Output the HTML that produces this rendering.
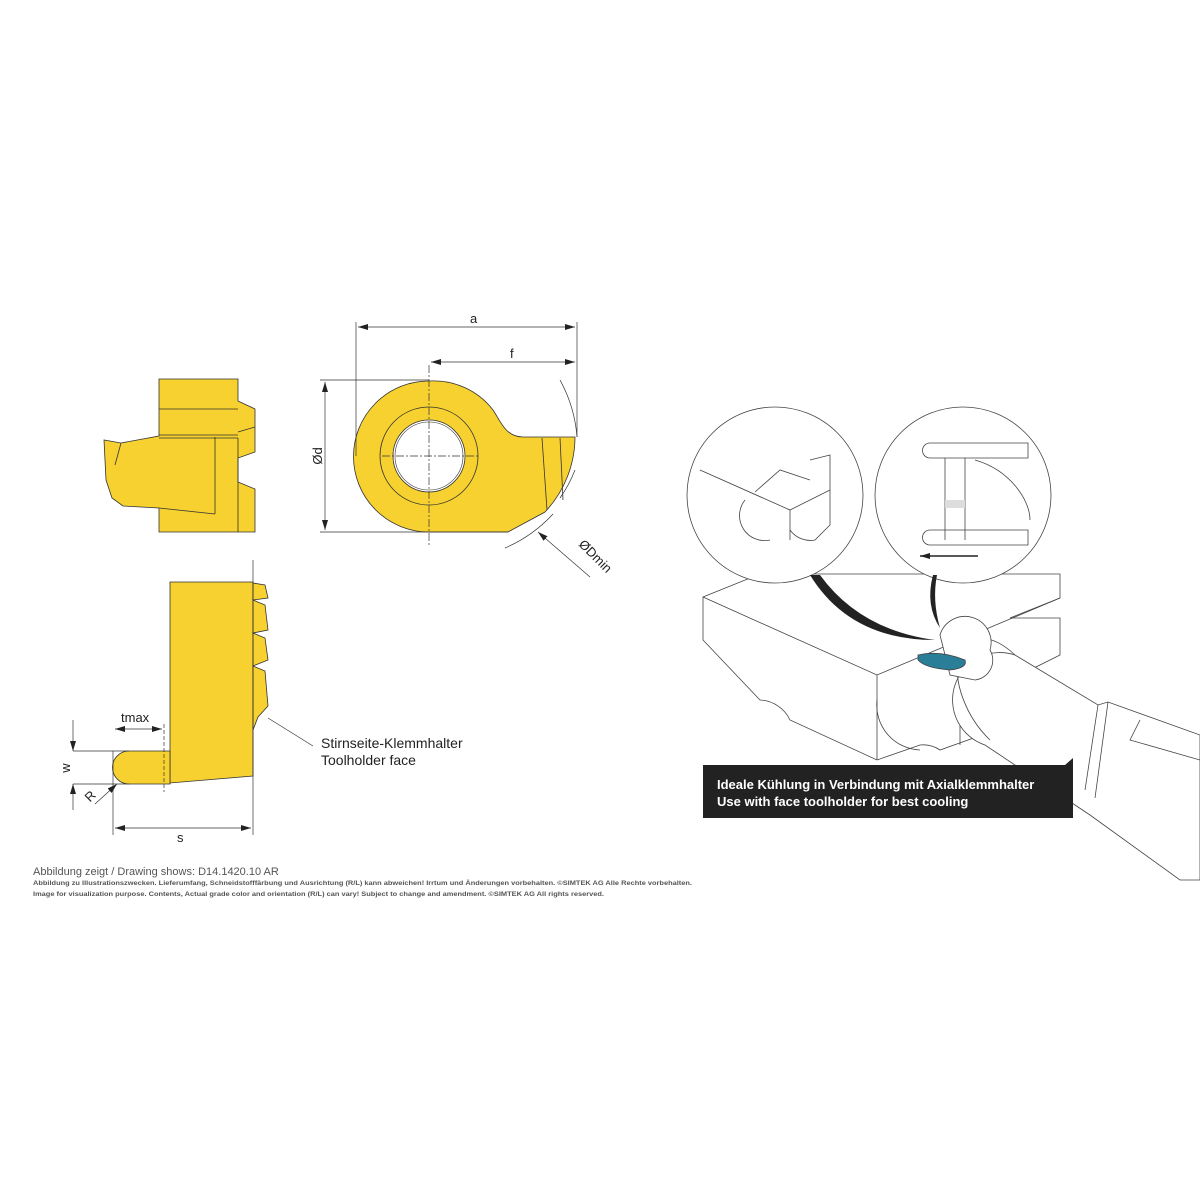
<!DOCTYPE html>
<html><head><meta charset="utf-8"><style>
html,body{margin:0;padding:0;background:#fff}
svg{display:block}
text{font-family:"Liberation Sans",sans-serif}
</style></head><body>
<svg width="1200" height="1200" viewBox="0 0 1200 1200" xmlns="http://www.w3.org/2000/svg">
<defs>
<marker id="ar" viewBox="0 0 10 6" refX="10" refY="3" markerWidth="10" markerHeight="6" orient="auto-start-reverse" markerUnits="userSpaceOnUse"><path d="M0,0 L10,3 L0,6 z" fill="#222"/></marker>
</defs>
<rect width="1200" height="1200" fill="#fff"/>
<g stroke="#333" stroke-width="0.8" fill="#f6d12f">
<polygon points="159,379 238,379 238,401 255,409 255,452 238,458 238,482 255,489 255,532 159,532 159,508 123,506 112,498 106,480 104,440 121,443 159,436"/>
<line x1="159" y1="409" x2="238" y2="409"/>
<line x1="159" y1="435" x2="238" y2="435"/>
<line x1="159" y1="438" x2="238" y2="438"/>
<line x1="215" y1="437" x2="215" y2="514"/>
<line x1="238" y1="438" x2="238" y2="532"/>
<line x1="238" y1="432" x2="255" y2="427"/>
<line x1="159" y1="508" x2="215" y2="514"/>
<line x1="121" y1="443" x2="115" y2="465"/>
<path d="M429,381 A75,75 0 0 0 429,532 L508,532 L545,512 A110,110 0 0 0 575,437 L523,437 C505,437 500,420 493,410 A75,75 0 0 0 429,381 z"/>
<circle cx="429" cy="456" r="49" fill="none"/>
<circle cx="429" cy="456" r="36" fill="#fff"/>
<circle cx="429" cy="456" r="34" fill="none" stroke-width="0.6"/>
<line x1="542" y1="438" x2="547" y2="510"/>
<line x1="560" y1="438" x2="563" y2="500"/>
<polygon points="170,582 253,582 253,776 170,783"/>
<path d="M253,583 L265,585 L268,598 L253,600 L265,605 L268,630 L253,633 L265,638 L268,660 L253,666 L265,671 L268,706 L258,717 L253,730 z"/>
<path d="M170,751 L129,751 A16,16 0 0 0 129,784 L170,784 z"/>
</g>
<g stroke="#333" stroke-width="0.7" fill="none">
<line x1="429" y1="365" x2="429" y2="545" stroke-dasharray="8,2,2,2"/>
<line x1="382" y1="456" x2="478" y2="456" stroke-dasharray="8,2,2,2"/>
<line x1="356" y1="322" x2="356" y2="456"/>
<line x1="577" y1="322" x2="577" y2="437"/>
<line x1="358" y1="327" x2="575" y2="327" marker-start="url(#ar)" marker-end="url(#ar)"/>
<line x1="431" y1="362" x2="575" y2="362" marker-start="url(#ar)" marker-end="url(#ar)"/>
<line x1="320" y1="380" x2="429" y2="380"/>
<line x1="320" y1="532" x2="508" y2="532"/>
<line x1="325" y1="382" x2="325" y2="530" marker-start="url(#ar)" marker-end="url(#ar)"/>
<path d="M560,380 A140,140 0 0 1 577,437"/>
<path d="M575,470 A130,130 0 0 1 560,498"/>
<path d="M553,514 A140,140 0 0 1 505,548"/>
<line x1="590" y1="577" x2="538" y2="532" marker-end="url(#ar)"/>
<line x1="253" y1="560" x2="253" y2="835"/>
<line x1="113" y1="751" x2="113" y2="835"/>
<line x1="164" y1="724" x2="164" y2="792" stroke-dasharray="4,2"/>
<line x1="115" y1="729" x2="162" y2="729" marker-start="url(#ar)" marker-end="url(#ar)"/>
<line x1="115" y1="828" x2="251" y2="828" marker-start="url(#ar)" marker-end="url(#ar)"/>
<line x1="73" y1="720" x2="73" y2="751" marker-end="url(#ar)"/>
<line x1="73" y1="810" x2="73" y2="784" marker-end="url(#ar)"/>
<line x1="73" y1="751" x2="129" y2="751"/>
<line x1="73" y1="784" x2="129" y2="784"/>
<line x1="95" y1="804" x2="117" y2="784" marker-end="url(#ar)"/>
<line x1="268" y1="718" x2="313" y2="746"/>
</g>
<g fill="#222" font-size="13">
<text x="470" y="323">a</text>
<text x="510" y="358">f</text>
<text x="322" y="456" transform="rotate(-90 322 456)" text-anchor="middle">Ød</text>
<text x="578" y="545" transform="rotate(45 578 545)">ØDmin</text>
<text x="121" y="722">tmax</text>
<text x="70" y="768" transform="rotate(-90 70 768)" text-anchor="middle">w</text>
<text x="86" y="801" transform="rotate(-45 90 797)">R</text>
<text x="177" y="842">s</text>
<text x="321" y="748" font-size="14">Stirnseite-Klemmhalter</text>
<text x="321" y="765" font-size="14">Toolholder face</text>
</g>
<g fill="#555">
<text x="33" y="875" font-size="11">Abbildung zeigt / Drawing shows: D14.1420.10 AR</text>
<text x="33" y="885" font-size="6.5" font-weight="bold" textLength="659" lengthAdjust="spacingAndGlyphs">Abbildung zu Illustrationszwecken. Lieferumfang, Schneidstofffärbung und Ausrichtung (R/L) kann abweichen! Irrtum und Änderungen vorbehalten. ©SIMTEK AG Alle Rechte vorbehalten.</text>
<text x="33" y="896" font-size="6.5" font-weight="bold" textLength="571" lengthAdjust="spacingAndGlyphs">Image for visualization purpose. Contents, Actual grade color and orientation (R/L) can vary! Subject to change and amendment. ©SIMTEK AG All rights reserved.</text>
</g>
<!-- right illustration -->
<g stroke="#444" stroke-width="0.8" fill="#fff">
<path d="M703,597 L760,574 L1060,574 L1060,598 L1010,618 L1060,618 L1060,655 L1010,680 L1010,725 L940,750 A30,30 0 0 0 920,745 L877,760 L790,720 A35,35 0 0 0 760,700 L703,640 z"/>
<path d="M703,597 L877,675 L1060,598" fill="none"/>
<path d="M877,675 L877,760 M960,715 L960,745" fill="none"/>
<path d="M877,700 A45,45 0 0 0 920,750 M960,720 A45,45 0 0 0 1000,748" fill="none"/>
<path d="M1015,655 L1098,705 L1108,702 L1200,735 L1200,880 L1180,880 L1090,815 L985,745 A25,25 0 0 1 1015,655 z"/>
<path d="M1015,655 A25,45 -30 0 0 990,740" fill="none"/>
<path d="M1098,705 L1085,790 M1108,702 L1095,798" fill="none"/>
<path d="M1140,720 L1130,740 L1200,760" fill="none"/>
<path d="M940,635 A20,20 0 0 1 990,650 A20,20 0 0 1 975,680 L950,675 z"/>
<path d="M918,655 Q940,650 965,660 Q968,668 950,670 Q925,668 918,660 z" fill="#2a7e97"/>
</g>
<g stroke="#444" stroke-width="0.8" fill="#fff">
<circle cx="775" cy="495" r="88"/>
<path d="M700,470 L790,510 L830,490 L830,455 L810,460 M790,510 L790,540 M745,500 A25,25 0 0 0 770,540 M790,530 A25,25 0 0 0 815,540 L830,525 L830,490" fill="none"/>
<path d="M755,492 L780,470 L810,480" fill="none"/>
<circle cx="963" cy="495" r="88"/>
<path d="M930,443 L1028,443 L1028,458 L930,458 A7,7 0 0 1 930,443 z M945,458 L945,540 M965,458 L965,540 M930,530 L1028,530 L1028,545 L930,545 A7,7 0 0 1 930,530 z M975,460 C1010,470 1030,500 1030,520" fill="none"/>
<rect x="945" y="500" width="20" height="8" fill="#ddd" stroke="none"/>
<line x1="978" y1="556" x2="920" y2="556" stroke="#222" stroke-width="1.5" marker-end="url(#ar)"/>
</g>
<path d="M810,575 Q850,640 935,640 Q860,630 820,575 z" fill="#222"/>
<path d="M933,575 Q925,605 940,628 Q932,600 937,575 z" fill="#222"/>
<path d="M703,765 L1065,765 L1073,758 L1073,818 L703,818 z" fill="#222"/>
<g fill="#fff" font-size="13" font-weight="bold">
<text x="717" y="789">Ideale Kühlung in Verbindung mit Axialklemmhalter</text>
<text x="717" y="806">Use with face toolholder for best cooling</text>
</g>
</svg>
</body></html>
